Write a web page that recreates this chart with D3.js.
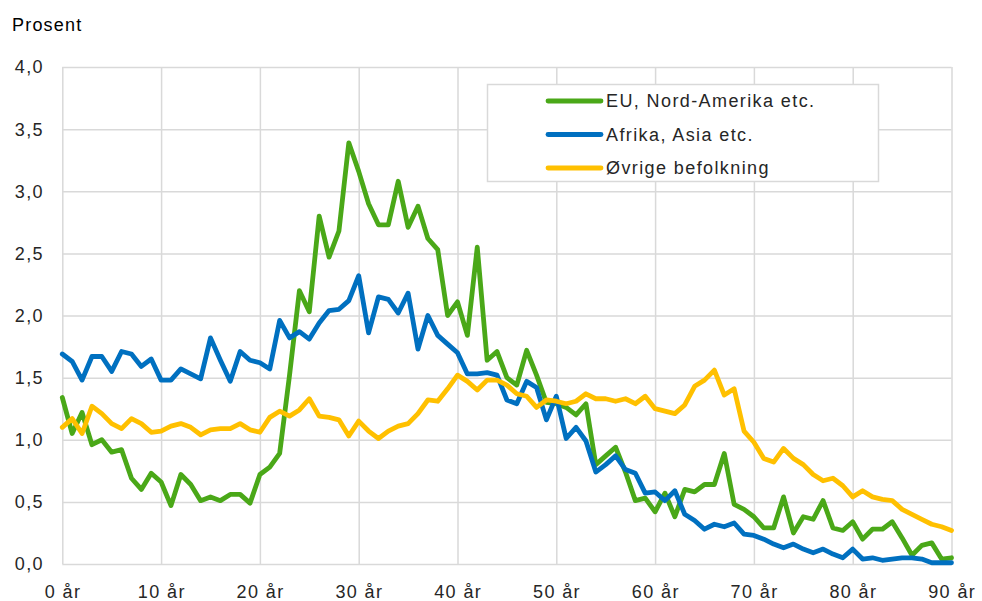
<!DOCTYPE html>
<html>
<head>
<meta charset="utf-8">
<script src="https://cdn.jsdelivr.net/npm/d3@7"></script>
<style>
    body { margin: 0; background: #fff; }
    text { font-family: "Liberation Sans", Arial, sans-serif; }
</style>
</head>
<body>
<svg id="chart" width="982" height="601"></svg>
<script>
// ages 0..90
let ages = d3.range(0, 91);

// EU, Nord-Amerika etc.
let euValues = [1.34, 1.05, 1.22, 0.96, 1.00, 0.90, 0.92, 0.69, 0.60, 0.73,
    0.66, 0.47, 0.72, 0.64, 0.51, 0.54, 0.51, 0.56, 0.56, 0.49,
    0.72, 0.78, 0.89, 1.52, 2.20, 2.03, 2.80, 2.47, 2.68, 3.39,
    3.16, 2.90, 2.73, 2.73, 3.08, 2.71, 2.88, 2.62, 2.53, 2.00,
    2.11, 1.84, 2.55, 1.64, 1.71, 1.50, 1.44, 1.72, 1.52, 1.30,
    1.29, 1.26, 1.20, 1.29, 0.80, 0.87, 0.94, 0.74, 0.51, 0.53,
    0.42, 0.57, 0.38, 0.60, 0.58, 0.64, 0.64, 0.89, 0.48, 0.44,
    0.38, 0.29, 0.29, 0.54, 0.25, 0.38, 0.36, 0.51, 0.29, 0.27,
    0.34, 0.20, 0.28, 0.28, 0.34, 0.21, 0.07, 0.15, 0.17, 0.04,
    0.05];

// Afrika, Asia etc.
let afrValues = [1.69, 1.63, 1.48, 1.67, 1.67, 1.55, 1.71, 1.69, 1.59, 1.65,
    1.48, 1.48, 1.57, 1.53, 1.49, 1.82, 1.64, 1.47, 1.71, 1.64,
    1.62, 1.57, 1.96, 1.82, 1.87, 1.81, 1.94, 2.04, 2.05, 2.12,
    2.32, 1.86, 2.15, 2.13, 2.02, 2.18, 1.73, 2.00, 1.84, 1.77,
    1.70, 1.53, 1.53, 1.54, 1.52, 1.32, 1.29, 1.47, 1.42, 1.16,
    1.35, 1.01, 1.10, 0.99, 0.74, 0.80, 0.87, 0.76, 0.73, 0.57,
    0.58, 0.51, 0.59, 0.40, 0.35, 0.28, 0.32, 0.30, 0.33, 0.24,
    0.23, 0.20, 0.16, 0.13, 0.16, 0.12, 0.09, 0.12, 0.08, 0.05,
    0.12, 0.04, 0.05, 0.03, 0.04, 0.05, 0.05, 0.04, 0.01, 0.01,
    0.01];

// Øvrige befolkning
let otherValues = [1.10, 1.17, 1.05, 1.27, 1.21, 1.13, 1.09, 1.17, 1.13, 1.06,
    1.07, 1.11, 1.13, 1.10, 1.04, 1.08, 1.09, 1.09, 1.13, 1.08,
    1.06, 1.18, 1.23, 1.19, 1.24, 1.33, 1.19, 1.18, 1.16, 1.03,
    1.15, 1.07, 1.01, 1.07, 1.11, 1.13, 1.21, 1.32, 1.31, 1.41,
    1.52, 1.47, 1.40, 1.48, 1.48, 1.44, 1.37, 1.35, 1.26, 1.32,
    1.31, 1.29, 1.31, 1.37, 1.33, 1.33, 1.31, 1.33, 1.29, 1.35,
    1.25, 1.23, 1.21, 1.28, 1.43, 1.48, 1.56, 1.36, 1.41, 1.07,
    0.98, 0.85, 0.82, 0.93, 0.85, 0.80, 0.72, 0.67, 0.69, 0.63,
    0.54, 0.59, 0.54, 0.52, 0.51, 0.44, 0.40, 0.36, 0.32, 0.30,
    0.27];

let seriesNames = ["EU, Nord-Amerika etc.", "Afrika, Asia etc.", "Øvrige befolkning"];
let seriesColors = ["#4aa818", "#0070c0", "#ffc000"];

let xTicks = d3.range(0, 91, 10);
let yTicks = d3.range(0, 4.01, 0.5);

let svg = d3.select("#chart");

// plot area
let x = d3.scaleLinear().domain([0, 90]).range([62.3, 951.5]);
let y = d3.scaleLinear().domain([0, 4]).range([564, 67]);

let grid = "#d9d9d9";
let textColor = "#262626";
let fontSize = 18;
let spacing = 1.4;

// gridlines (drawn with axes, tick lines stretched over the plot)
svg.append("g")
    .attr("transform", "translate(0,564)")
    .call(d3.axisBottom(x).tickValues(xTicks).tickSize(-(564 - 67)).tickFormat(""))
    .call(g => g.select(".domain").remove())
    .call(g => g.selectAll("line").attr("stroke", grid).attr("stroke-width", 1.5));

svg.append("g")
    .attr("transform", "translate(62.3,0)")
    .call(d3.axisLeft(y).tickValues(yTicks).tickSize(-(951.5 - 62.3)).tickFormat(""))
    .call(g => g.select(".domain").remove())
    .call(g => g.selectAll("line").attr("stroke", grid).attr("stroke-width", 1.5));

// tick labels
let yFormat = d => d3.format(".1f")(d).replace(".", ",");
svg.append("g").selectAll("text")
    .data(yTicks)
    .join("text")
    .attr("x", 44)
    .attr("y", d => y(d))
    .attr("dy", "0.36em")
    .attr("text-anchor", "end")
    .attr("font-size", fontSize)
    .attr("letter-spacing", spacing)
    .attr("fill", textColor)
    .text(yFormat);

svg.append("g").selectAll("text")
    .data(xTicks)
    .join("text")
    .attr("x", d => x(d) + spacing / 2)
    .attr("y", 598)
    .attr("text-anchor", "middle")
    .attr("font-size", fontSize)
    .attr("letter-spacing", spacing)
    .attr("fill", textColor)
    .text(d => d + " år");

svg.append("text")
    .attr("x", 12)
    .attr("y", 31)
    .attr("font-size", fontSize)
    .attr("letter-spacing", 1.2)
    .attr("fill", "#000")
    .text("Prosent");

// lines, first series at the bottom
let allSeries = [euValues, afrValues, otherValues];
let line = d3.line()
    .x((d, i) => x(ages[i]))
    .y(d => y(d));

svg.append("g").selectAll("path")
    .data(allSeries)
    .join("path")
    .attr("d", d => line(d))
    .attr("fill", "none")
    .attr("stroke", (d, i) => seriesColors[i])
    .attr("stroke-width", 4.8)
    .attr("stroke-linejoin", "round")
    .attr("stroke-linecap", "round");

// legend
let legend = svg.append("g");
legend.append("rect")
    .attr("x", 487.5)
    .attr("y", 84.5)
    .attr("width", 391)
    .attr("height", 97)
    .attr("fill", "#fff")
    .attr("stroke", grid)
    .attr("stroke-width", 1.5);

let legendRows = legend.selectAll("g.row")
    .data(seriesNames)
    .join("g")
    .attr("class", "row")
    .attr("transform", (d, i) => "translate(0," + (101 + i * 33.5) + ")");

legendRows.append("line")
    .attr("x1", 548).attr("x2", 601)
    .attr("y1", 0).attr("y2", 0)
    .attr("stroke", (d, i) => seriesColors[i])
    .attr("stroke-width", 4.8)
    .attr("stroke-linecap", "round");

legendRows.append("text")
    .attr("x", 606)
    .attr("y", 0)
    .attr("dy", "0.36em")
    .attr("font-size", fontSize)
    .attr("letter-spacing", spacing)
    .attr("fill", textColor)
    .text(d => d);
</script>
</body>
</html>
